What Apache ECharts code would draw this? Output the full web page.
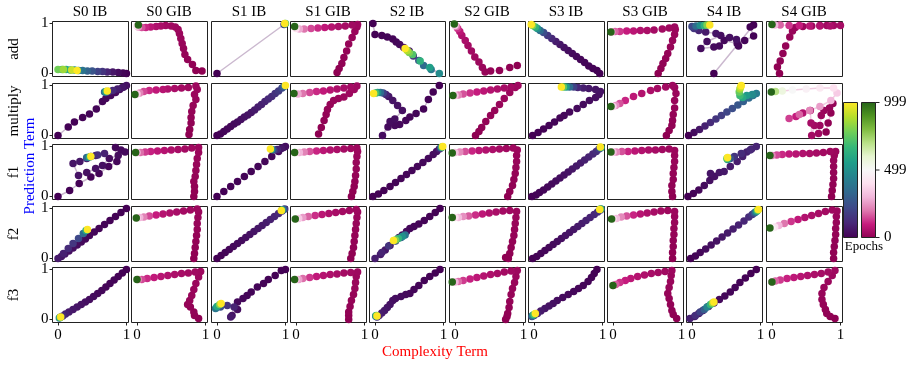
<!DOCTYPE html>
<html>
<head>
<meta charset="utf-8">
<script src="https://cdn.jsdelivr.net/npm/echarts@6/dist/echarts.min.js"></script>
<style>
html, body { margin: 0; padding: 0; background: #fff; }
#main { width: 914px; height: 369px; }
#err { position: absolute; left: 300px; top: 150px; font: 12px monospace; color: #000; }
</style>
</head>
<body>
<div id="main"></div>
<div id="err"></div>
<script>
var columns = ['S0 IB', 'S0 GIB', 'S1 IB', 'S1 GIB', 'S2 IB', 'S2 GIB', 'S3 IB', 'S3 GIB', 'S4 IB', 'S4 GIB'];
var rowNames = ['add', 'multiply', 'f1', 'f2', 'f3'];
var epochTicks = ['999', '499', '0'];

// each run: [complexity, prediction, epoch]
var addRuns = [
  [[1.0,0.0,0],[0.95,0.01,10],[0.88,0.02,30],[0.8,0.03,60],[0.72,0.03,100],[0.65,0.04,150],[0.58,0.04,200],[0.5,0.05,260],[0.43,0.05,320],[0.36,0.06,380],[0.3,0.06,440],[0.24,0.07,500],[0.18,0.07,560],[0.12,0.08,620],[0.06,0.08,700],[0.0,0.08,780],[0.08,0.08,850],[0.2,0.07,920],[0.28,0.06,999]],
  [[0.95,0.05,0],[0.86,0.06,3],[0.81,0.18,6],[0.74,0.28,9],[0.7,0.38,12],[0.68,0.5,15],[0.66,0.6,18],[0.64,0.7,21],[0.62,0.8,24],[0.6,0.88,27],[0.56,0.93,30],[0.5,0.95,35],[0.42,0.96,40],[0.35,0.95,50],[0.28,0.94,60],[0.2,0.93,80],[0.13,0.92,110],[0.07,0.92,160],[0.02,0.93,250],[0.0,0.95,400],[0.02,0.97,999]],
  [[0.0,0.0,0],[0.98,0.98,150],[0.99,0.99,400],[1.0,1.0,700],[0.99,1.0,999]],
  [[0.6,0.02,0],[0.63,0.1,3],[0.67,0.2,6],[0.7,0.32,9],[0.74,0.45,12],[0.77,0.59,15],[0.82,0.72,18],[0.86,0.84,21],[0.89,0.93,24],[0.9,0.98,28],[0.82,0.97,35],[0.72,0.95,45],[0.62,0.94,55],[0.52,0.93,70],[0.42,0.92,90],[0.32,0.91,115],[0.22,0.9,150],[0.12,0.89,200],[0.05,0.89,280],[0.0,0.9,400],[-0.02,0.94,999]],
  [[-0.03,1.0,0],[0.0,0.78,3],[0.1,0.76,6],[0.18,0.73,9],[0.26,0.69,12],[0.31,0.63,16],[0.36,0.58,22],[0.42,0.52,30],[0.5,0.45,60],[0.56,0.35,150],[0.64,0.26,250],[0.71,0.16,350],[0.82,0.08,420],[0.94,0.0,480],[0.8,0.12,560],[0.66,0.25,640],[0.55,0.38,720],[0.5,0.42,800],[0.47,0.46,880],[0.44,0.5,999]],
  [[0.91,0.16,0],[0.8,0.12,4],[0.65,0.06,8],[0.52,0.05,12],[0.44,0.03,16],[0.4,0.12,20],[0.35,0.23,25],[0.29,0.33,30],[0.24,0.45,35],[0.19,0.56,40],[0.15,0.66,50],[0.1,0.76,60],[0.07,0.84,80],[0.04,0.9,120],[0.02,0.94,200],[0.0,0.96,350],[-0.01,0.99,999]],
  [[0.96,0.0,0],[0.92,0.06,3],[0.86,0.1,6],[0.8,0.15,9],[0.74,0.22,12],[0.68,0.28,16],[0.62,0.34,20],[0.56,0.4,26],[0.5,0.46,34],[0.44,0.52,45],[0.38,0.58,60],[0.32,0.64,80],[0.26,0.7,110],[0.2,0.76,160],[0.14,0.82,240],[0.09,0.86,350],[0.05,0.9,500],[0.02,0.93,650],[-0.02,0.96,800],[-0.04,0.98,999]],
  [[0.66,0.0,0],[0.7,0.1,3],[0.73,0.2,6],[0.77,0.3,9],[0.8,0.4,12],[0.84,0.53,15],[0.87,0.66,18],[0.9,0.78,21],[0.91,0.88,24],[0.9,0.93,27],[0.82,0.91,31],[0.72,0.89,36],[0.6,0.87,42],[0.5,0.86,52],[0.4,0.86,64],[0.3,0.85,80],[0.2,0.85,100],[0.1,0.84,130],[0.03,0.84,180],[-0.02,0.83,300],[-0.03,0.83,999]],
  [[0.32,0.0,0],[0.9,0.97,3],[0.85,0.93,6],[0.9,0.75,9],[0.77,0.66,12],[0.68,0.55,15],[0.66,0.6,18],[0.47,0.66,21],[0.4,0.55,24],[0.32,0.53,27],[0.13,0.5,30],[0.22,0.64,34],[0.42,0.76,38],[0.55,0.72,42],[0.65,0.68,46],[0.35,0.8,55],[0.2,0.83,70],[0.1,0.86,100],[0.03,0.9,150],[0.0,0.94,220],[0.06,0.95,350],[0.12,0.96,500],[0.18,0.96,650],[0.22,0.97,800],[0.26,0.97,999]],
  [[0.11,0.0,0],[0.08,0.13,3],[0.12,0.25,6],[0.16,0.4,9],[0.2,0.55,12],[0.26,0.73,15],[0.3,0.85,18],[0.34,0.92,21],[0.45,0.94,24],[0.58,0.95,28],[0.7,0.96,32],[0.8,0.96,36],[0.9,0.96,40],[1.0,0.96,45],[0.85,0.95,55],[0.7,0.95,65],[0.55,0.95,80],[0.4,0.96,100],[0.25,0.96,130],[0.12,0.97,180],[0.04,0.97,300],[0.0,0.98,999]]
];

var multiplyRuns = [
  [[0.0,0.0,0],[0.15,0.17,2],[0.24,0.27,4],[0.36,0.36,6],[0.46,0.43,8],[0.56,0.53,10],[0.65,0.68,13],[0.7,0.74,16],[0.77,0.8,20],[0.84,0.86,25],[0.9,0.92,30],[0.96,0.97,38],[1.0,1.0,48],[0.94,0.96,60],[0.87,0.93,80],[0.8,0.9,110],[0.74,0.88,150],[0.7,0.86,220],[0.68,0.87,350],[0.7,0.88,600],[0.72,0.89,999]],
  [[0.76,0.02,0],[0.77,0.12,3],[0.79,0.25,6],[0.79,0.36,9],[0.8,0.48,12],[0.82,0.6,15],[0.86,0.72,18],[0.84,0.82,21],[0.88,0.92,24],[0.86,0.99,28],[0.75,0.96,33],[0.65,0.95,40],[0.55,0.94,50],[0.45,0.93,60],[0.38,0.92,72],[0.28,0.91,90],[0.18,0.9,115],[0.1,0.88,150],[0.04,0.85,220],[0.0,0.83,350],[-0.03,0.82,999]],
  [[0.0,0.0,0],[0.05,0.03,5],[0.1,0.08,10],[0.15,0.13,15],[0.2,0.18,20],[0.25,0.23,26],[0.3,0.27,32],[0.35,0.32,38],[0.4,0.37,45],[0.45,0.41,52],[0.5,0.46,60],[0.55,0.51,68],[0.6,0.57,77],[0.65,0.62,87],[0.7,0.68,98],[0.75,0.73,110],[0.8,0.78,125],[0.85,0.84,145],[0.9,0.89,170],[0.95,0.95,220],[0.98,0.98,350],[1.0,1.0,999]],
  [[0.33,0.03,0],[0.37,0.16,3],[0.41,0.3,6],[0.44,0.42,9],[0.46,0.52,12],[0.5,0.62,15],[0.55,0.7,18],[0.62,0.74,21],[0.7,0.77,24],[0.78,0.84,27],[0.85,0.92,30],[0.89,0.99,34],[0.8,0.97,40],[0.7,0.95,48],[0.6,0.93,58],[0.5,0.91,72],[0.4,0.89,90],[0.3,0.88,115],[0.2,0.86,150],[0.1,0.84,200],[0.03,0.83,280],[-0.03,0.84,999]],
  [[0.94,1.0,0],[0.85,0.87,3],[0.78,0.72,6],[0.71,0.53,9],[0.6,0.44,12],[0.51,0.37,15],[0.45,0.3,18],[0.36,0.22,21],[0.29,0.2,24],[0.19,0.17,27],[0.11,0.0,30],[0.22,0.28,34],[0.29,0.33,38],[0.4,0.5,42],[0.33,0.6,46],[0.26,0.7,50],[0.2,0.78,60],[0.16,0.82,100],[0.12,0.85,200],[0.08,0.86,350],[0.04,0.86,500],[0.01,0.85,700],[-0.02,0.84,999]],
  [[0.3,0.0,0],[0.35,0.08,3],[0.39,0.16,6],[0.45,0.28,9],[0.52,0.4,12],[0.58,0.5,15],[0.65,0.62,18],[0.72,0.74,21],[0.8,0.86,24],[0.88,0.96,28],[0.92,1.0,32],[0.82,0.97,38],[0.72,0.95,46],[0.62,0.93,56],[0.52,0.91,68],[0.42,0.89,82],[0.32,0.87,100],[0.22,0.85,125],[0.12,0.83,160],[0.05,0.81,220],[0.0,0.8,330],[-0.03,0.8,999]],
  [[-0.02,0.0,0],[0.06,0.06,3],[0.14,0.13,6],[0.22,0.2,9],[0.3,0.27,12],[0.38,0.35,15],[0.44,0.4,18],[0.52,0.47,21],[0.63,0.54,25],[0.72,0.62,29],[0.81,0.7,33],[0.9,0.76,37],[0.95,0.82,42],[0.97,0.88,48],[0.9,0.92,56],[0.8,0.94,66],[0.72,0.95,80],[0.64,0.96,110],[0.58,0.97,200],[0.52,0.97,350],[0.47,0.97,550],[0.43,0.97,750],[0.4,0.97,999]],
  [[0.78,0.0,0],[0.82,0.1,3],[0.86,0.2,6],[0.87,0.3,9],[0.88,0.42,12],[0.9,0.55,15],[0.9,0.7,18],[0.92,0.84,21],[0.9,0.96,24],[0.87,1.0,28],[0.77,0.97,34],[0.65,0.94,42],[0.55,0.9,52],[0.42,0.84,66],[0.3,0.78,85],[0.18,0.7,110],[0.1,0.64,160],[0.04,0.6,240],[0.0,0.58,360],[-0.03,0.58,999]],
  [[-0.05,0.0,0],[0.03,0.06,30],[0.11,0.12,60],[0.19,0.19,90],[0.27,0.26,120],[0.35,0.33,150],[0.43,0.4,180],[0.51,0.47,210],[0.59,0.54,240],[0.67,0.61,270],[0.75,0.68,300],[0.83,0.75,340],[0.89,0.8,380],[0.94,0.84,420],[0.88,0.82,480],[0.8,0.8,540],[0.74,0.76,600],[0.7,0.8,680],[0.69,0.87,760],[0.7,0.93,850],[0.71,0.97,930],[0.72,1.0,999]],
  [[0.79,0.07,0],[0.82,0.25,4],[0.86,0.45,8],[0.89,0.64,12],[0.84,0.55,16],[0.76,0.5,20],[0.72,0.4,24],[0.7,0.2,28],[0.68,0.04,32],[0.62,0.2,36],[0.58,0.0,40],[0.57,0.25,44],[0.56,0.5,50],[0.45,0.45,70],[0.35,0.38,100],[0.25,0.34,140],[0.4,0.42,180],[0.55,0.5,220],[0.7,0.58,260],[0.86,0.7,300],[0.95,0.85,350],[0.9,0.95,400],[0.7,0.95,440],[0.5,0.93,470],[0.3,0.91,500],[0.15,0.89,560],[0.05,0.88,700],[-0.01,0.87,999]]
];

var f1Runs = [
  [[0.0,0.0,0],[0.17,0.12,3],[0.31,0.26,6],[0.48,0.39,9],[0.6,0.46,12],[0.74,0.6,15],[0.86,0.7,18],[0.84,0.98,21],[0.92,0.93,24],[0.98,0.89,27],[0.88,0.82,31],[0.75,0.76,35],[0.65,0.62,39],[0.55,0.56,43],[0.42,0.48,47],[0.3,0.42,51],[0.22,0.66,56],[0.32,0.7,62],[0.42,0.76,70],[0.55,0.82,80],[0.68,0.86,95],[0.58,0.83,130],[0.48,0.8,200],[0.42,0.78,350],[0.46,0.79,600],[0.48,0.8,999]],
  [[0.83,0.0,0],[0.84,0.1,3],[0.84,0.2,6],[0.83,0.3,9],[0.85,0.4,12],[0.86,0.52,15],[0.87,0.64,18],[0.88,0.76,21],[0.9,0.88,24],[0.9,0.98,28],[0.8,0.97,33],[0.7,0.95,40],[0.6,0.94,48],[0.5,0.93,58],[0.4,0.92,70],[0.3,0.91,85],[0.2,0.9,105],[0.12,0.89,135],[0.05,0.88,190],[0.0,0.88,300],[-0.02,0.88,999]],
  [[0.0,0.0,0],[0.1,0.1,2],[0.2,0.2,4],[0.3,0.3,6],[0.4,0.4,8],[0.5,0.5,10],[0.6,0.6,13],[0.7,0.7,16],[0.8,0.8,20],[0.9,0.9,25],[0.97,0.98,30],[1.0,1.0,40],[0.94,0.96,60],[0.88,0.94,100],[0.83,0.93,200],[0.8,0.94,500],[0.78,0.95,999]],
  [[0.81,0.0,0],[0.83,0.1,3],[0.85,0.2,6],[0.86,0.3,9],[0.87,0.42,12],[0.88,0.55,15],[0.88,0.68,18],[0.89,0.8,21],[0.9,0.9,24],[0.89,0.97,28],[0.8,0.96,34],[0.7,0.95,42],[0.6,0.94,52],[0.5,0.93,64],[0.4,0.92,80],[0.3,0.91,110],[0.2,0.9,160],[0.12,0.89,220],[0.05,0.88,300],[0.0,0.88,380],[-0.02,0.88,999]],
  [[-0.03,0.0,0],[0.05,0.05,2],[0.13,0.12,4],[0.22,0.2,6],[0.3,0.28,8],[0.38,0.36,10],[0.46,0.44,12],[0.54,0.52,14],[0.62,0.6,17],[0.7,0.68,20],[0.78,0.76,24],[0.85,0.84,30],[0.9,0.9,40],[0.94,0.95,80],[0.96,0.97,200],[0.97,0.98,450],[0.98,0.99,750],[0.99,1.0,999]],
  [[0.77,0.0,0],[0.8,0.1,3],[0.84,0.22,6],[0.86,0.34,9],[0.88,0.46,12],[0.89,0.58,15],[0.9,0.7,18],[0.9,0.82,21],[0.91,0.93,25],[0.85,0.97,30],[0.75,0.96,36],[0.65,0.95,44],[0.55,0.94,54],[0.45,0.93,66],[0.35,0.92,82],[0.25,0.91,110],[0.15,0.9,160],[0.07,0.89,230],[0.0,0.88,330],[-0.04,0.87,999]],
  [[-0.03,0.0,0],[0.03,0.03,5],[0.08,0.08,10],[0.14,0.13,15],[0.2,0.19,20],[0.26,0.25,26],[0.32,0.31,32],[0.38,0.37,38],[0.44,0.43,45],[0.5,0.49,52],[0.56,0.55,60],[0.62,0.61,68],[0.68,0.67,77],[0.74,0.73,87],[0.8,0.79,98],[0.86,0.85,112],[0.91,0.9,130],[0.95,0.95,160],[0.97,0.97,300],[0.98,0.98,600],[0.97,0.99,999]],
  [[0.87,0.0,0],[0.86,0.1,3],[0.86,0.22,6],[0.88,0.34,9],[0.88,0.46,12],[0.89,0.58,15],[0.9,0.7,18],[0.9,0.82,21],[0.9,0.92,24],[0.82,0.95,30],[0.72,0.94,36],[0.62,0.93,44],[0.52,0.93,54],[0.42,0.92,66],[0.32,0.91,82],[0.22,0.9,110],[0.13,0.9,160],[0.05,0.89,230],[0.0,0.89,320],[-0.03,0.89,999]],
  [[-0.06,0.0,0],[0.02,0.06,10],[0.1,0.13,20],[0.18,0.22,30],[0.26,0.32,40],[0.33,0.4,48],[0.27,0.46,54],[0.4,0.48,60],[0.47,0.5,66],[0.56,0.6,72],[0.66,0.7,78],[0.74,0.8,84],[0.8,0.89,90],[0.87,0.95,96],[0.94,1.0,102],[0.85,0.93,110],[0.72,0.86,125],[0.62,0.8,150],[0.56,0.76,250],[0.52,0.74,500],[0.51,0.76,750],[0.52,0.78,999]],
  [[0.87,0.0,0],[0.88,0.12,3],[0.89,0.24,6],[0.9,0.36,9],[0.9,0.48,12],[0.9,0.6,15],[0.9,0.72,18],[0.91,0.82,21],[0.93,0.9,24],[0.85,0.9,30],[0.75,0.88,36],[0.65,0.87,44],[0.55,0.86,52],[0.45,0.86,62],[0.35,0.85,75],[0.25,0.85,92],[0.15,0.84,115],[0.07,0.83,150],[0.0,0.82,220],[-0.03,0.82,999]]
];

var f2Runs = [
  [[1.0,1.0,0],[0.92,0.92,2],[0.84,0.84,4],[0.76,0.76,6],[0.68,0.68,8],[0.6,0.6,10],[0.53,0.53,13],[0.46,0.46,16],[0.4,0.39,20],[0.34,0.33,25],[0.28,0.27,30],[0.22,0.21,36],[0.16,0.15,42],[0.1,0.09,50],[0.05,0.04,60],[0.0,0.0,70],[0.08,0.1,90],[0.15,0.2,120],[0.22,0.3,160],[0.3,0.4,220],[0.37,0.5,350],[0.41,0.56,600],[0.43,0.58,999]],
  [[0.83,0.0,0],[0.84,0.1,3],[0.85,0.22,6],[0.86,0.34,9],[0.87,0.46,12],[0.88,0.58,15],[0.88,0.7,18],[0.89,0.82,21],[0.9,0.93,24],[0.88,0.99,28],[0.78,0.97,34],[0.68,0.95,40],[0.58,0.93,48],[0.48,0.91,58],[0.38,0.89,70],[0.28,0.87,100],[0.18,0.85,150],[0.1,0.83,220],[0.04,0.82,300],[0.0,0.81,380],[-0.01,0.81,999]],
  [[0.0,0.0,0],[0.06,0.06,5],[0.12,0.12,10],[0.18,0.18,15],[0.24,0.24,20],[0.3,0.3,26],[0.36,0.36,32],[0.42,0.42,38],[0.48,0.48,45],[0.54,0.54,52],[0.6,0.6,60],[0.66,0.66,68],[0.72,0.72,77],[0.78,0.78,87],[0.84,0.84,98],[0.9,0.9,112],[0.95,0.95,130],[0.99,0.99,160],[0.97,0.98,300],[0.95,0.97,600],[0.94,0.96,999]],
  [[0.8,0.0,0],[0.82,0.1,3],[0.84,0.22,6],[0.85,0.34,9],[0.86,0.46,12],[0.87,0.58,15],[0.88,0.7,18],[0.89,0.82,21],[0.9,0.93,24],[0.88,0.98,28],[0.78,0.96,34],[0.68,0.94,40],[0.58,0.92,48],[0.48,0.9,58],[0.38,0.88,80],[0.28,0.86,120],[0.18,0.84,180],[0.1,0.82,260],[0.04,0.8,350],[0.0,0.79,430],[-0.01,0.79,999]],
  [[0.95,1.0,0],[0.88,0.92,3],[0.8,0.84,6],[0.72,0.76,9],[0.64,0.69,12],[0.57,0.64,15],[0.51,0.6,18],[0.46,0.54,22],[0.4,0.47,28],[0.35,0.42,36],[0.3,0.36,46],[0.22,0.26,56],[0.15,0.17,64],[0.08,0.08,72],[0.0,0.0,80],[0.1,0.12,100],[0.2,0.25,150],[0.3,0.35,220],[0.38,0.42,300],[0.44,0.47,380],[0.4,0.44,500],[0.34,0.4,650],[0.3,0.37,800],[0.27,0.36,999]],
  [[0.74,0.02,0],[0.78,0.0,2],[0.8,0.1,4],[0.82,0.22,7],[0.84,0.34,10],[0.86,0.46,13],[0.87,0.58,16],[0.88,0.7,19],[0.89,0.82,22],[0.9,0.94,26],[0.8,0.96,32],[0.7,0.95,40],[0.6,0.93,50],[0.5,0.91,62],[0.4,0.89,85],[0.3,0.87,120],[0.2,0.85,170],[0.12,0.84,240],[0.05,0.82,320],[0.0,0.82,400],[-0.04,0.82,999]],
  [[-0.02,0.0,0],[0.04,0.04,5],[0.1,0.1,10],[0.16,0.16,15],[0.22,0.22,20],[0.28,0.28,26],[0.34,0.34,32],[0.4,0.4,38],[0.46,0.46,45],[0.52,0.52,52],[0.58,0.58,60],[0.64,0.64,68],[0.7,0.7,77],[0.76,0.76,87],[0.82,0.82,98],[0.88,0.88,112],[0.93,0.93,130],[0.97,0.97,170],[0.98,0.99,400],[0.97,0.99,700],[0.96,0.98,999]],
  [[0.87,0.0,0],[0.87,0.12,3],[0.88,0.24,6],[0.88,0.36,9],[0.89,0.48,12],[0.89,0.6,15],[0.9,0.72,18],[0.9,0.84,21],[0.9,0.94,25],[0.8,0.96,31],[0.7,0.95,38],[0.6,0.93,46],[0.5,0.91,56],[0.4,0.89,75],[0.3,0.87,110],[0.2,0.85,160],[0.12,0.83,230],[0.05,0.8,320],[0.0,0.79,400],[-0.02,0.79,999]],
  [[-0.02,0.0,0],[0.05,0.05,10],[0.12,0.12,20],[0.2,0.19,30],[0.28,0.27,40],[0.36,0.35,50],[0.44,0.43,60],[0.52,0.51,70],[0.6,0.59,80],[0.68,0.67,92],[0.76,0.75,105],[0.83,0.83,125],[0.88,0.88,160],[0.91,0.91,250],[0.93,0.93,400],[0.95,0.95,600],[0.96,0.97,800],[0.97,0.98,999]],
  [[0.9,0.0,0],[0.9,0.12,3],[0.91,0.24,6],[0.92,0.36,9],[0.93,0.48,12],[0.93,0.6,15],[0.94,0.72,18],[0.94,0.84,21],[0.95,0.95,25],[0.88,0.97,31],[0.78,0.94,38],[0.68,0.9,46],[0.58,0.86,55],[0.48,0.82,66],[0.38,0.78,90],[0.28,0.74,130],[0.18,0.7,200],[0.1,0.66,300],[0.04,0.63,420],[0.0,0.61,480],[-0.03,0.61,999]]
];

var f3Runs = [
  [[1.0,1.0,0],[0.94,0.93,3],[0.88,0.86,6],[0.82,0.79,9],[0.76,0.72,12],[0.7,0.65,15],[0.64,0.58,19],[0.58,0.52,23],[0.52,0.46,28],[0.46,0.4,34],[0.4,0.35,40],[0.34,0.3,47],[0.28,0.25,55],[0.22,0.2,64],[0.16,0.15,75],[0.11,0.11,90],[0.07,0.07,120],[0.04,0.05,200],[0.02,0.03,400],[0.03,0.04,700],[0.04,0.05,999]],
  [[0.9,0.02,0],[0.84,0.08,3],[0.83,0.15,6],[0.78,0.25,9],[0.74,0.3,12],[0.77,0.38,15],[0.8,0.48,18],[0.83,0.6,21],[0.86,0.72,24],[0.9,0.85,27],[0.93,0.96,30],[0.85,0.95,34],[0.75,0.93,40],[0.65,0.92,46],[0.55,0.9,54],[0.45,0.88,64],[0.35,0.86,76],[0.25,0.84,92],[0.15,0.82,115],[0.07,0.8,150],[0.02,0.8,220],[0.0,0.8,999]],
  [[1.0,1.0,0],[0.94,0.98,2],[0.85,0.88,4],[0.75,0.8,6],[0.68,0.72,8],[0.59,0.65,10],[0.5,0.55,12],[0.44,0.48,14],[0.38,0.42,18],[0.3,0.35,25],[0.3,0.2,35],[0.22,0.08,50],[0.2,0.05,70],[0.25,0.25,100],[0.15,0.28,150],[0.05,0.25,250],[-0.02,0.22,400],[0.0,0.26,600],[0.04,0.3,800],[0.06,0.32,999]],
  [[0.77,0.0,0],[0.77,0.08,3],[0.77,0.15,6],[0.79,0.26,9],[0.81,0.38,12],[0.84,0.5,15],[0.86,0.62,18],[0.87,0.74,21],[0.88,0.86,24],[0.9,0.95,28],[0.8,0.94,34],[0.7,0.93,40],[0.6,0.91,48],[0.5,0.9,58],[0.4,0.88,70],[0.3,0.86,90],[0.2,0.84,130],[0.1,0.82,190],[0.04,0.8,270],[0.0,0.8,350],[-0.02,0.8,999]],
  [[0.95,1.0,0],[0.88,0.93,3],[0.8,0.86,6],[0.72,0.78,9],[0.64,0.68,12],[0.57,0.6,15],[0.51,0.52,18],[0.45,0.5,22],[0.38,0.46,27],[0.3,0.42,33],[0.26,0.38,40],[0.22,0.3,48],[0.18,0.24,56],[0.14,0.18,65],[0.1,0.13,75],[0.06,0.08,90],[0.03,0.05,130],[0.02,0.06,250],[0.01,0.07,450],[0.02,0.08,700],[0.03,0.07,999]],
  [[0.74,0.0,0],[0.76,0.06,3],[0.77,0.12,6],[0.79,0.24,9],[0.8,0.36,12],[0.82,0.5,15],[0.84,0.62,18],[0.87,0.74,21],[0.89,0.86,24],[0.91,0.98,28],[0.82,0.97,34],[0.72,0.95,40],[0.62,0.92,48],[0.52,0.9,58],[0.42,0.87,70],[0.32,0.84,85],[0.22,0.81,105],[0.12,0.78,135],[0.05,0.76,190],[0.0,0.75,300],[-0.04,0.75,999]],
  [[0.92,1.0,0],[0.88,0.92,3],[0.84,0.84,6],[0.79,0.76,9],[0.72,0.68,12],[0.65,0.62,15],[0.58,0.56,18],[0.5,0.5,22],[0.42,0.44,27],[0.34,0.38,33],[0.28,0.32,40],[0.22,0.27,50],[0.16,0.22,60],[0.1,0.17,72],[0.05,0.12,90],[0.0,0.08,130],[-0.03,0.06,250],[-0.02,0.08,450],[0.0,0.1,700],[0.02,0.12,999]],
  [[0.93,0.02,0],[0.88,0.1,3],[0.86,0.18,6],[0.84,0.3,9],[0.82,0.42,12],[0.8,0.52,15],[0.82,0.64,18],[0.84,0.76,21],[0.85,0.88,24],[0.86,0.98,28],[0.76,0.96,34],[0.66,0.94,40],[0.56,0.92,48],[0.46,0.89,58],[0.36,0.86,70],[0.26,0.82,84],[0.18,0.78,100],[0.1,0.74,125],[0.04,0.7,170],[0.0,0.68,260],[0.0,0.68,999]],
  [[0.94,1.0,0],[0.86,0.92,3],[0.78,0.83,6],[0.7,0.74,9],[0.63,0.64,12],[0.56,0.55,15],[0.48,0.47,19],[0.4,0.4,24],[0.32,0.33,30],[0.24,0.26,38],[0.16,0.18,48],[0.1,0.12,60],[0.04,0.06,75],[-0.03,0.02,90],[0.05,0.08,130],[0.12,0.15,200],[0.18,0.2,300],[0.22,0.25,450],[0.27,0.3,650],[0.3,0.33,850],[0.32,0.35,999]],
  [[0.92,0.02,0],[0.85,0.06,3],[0.8,0.12,6],[0.78,0.2,9],[0.75,0.3,12],[0.73,0.4,15],[0.73,0.52,18],[0.76,0.64,21],[0.82,0.76,24],[0.88,0.88,27],[0.92,0.98,31],[0.82,0.95,37],[0.72,0.92,44],[0.62,0.9,52],[0.52,0.88,62],[0.42,0.86,74],[0.32,0.84,88],[0.22,0.82,106],[0.12,0.79,135],[0.05,0.77,180],[0.0,0.75,260],[0.0,0.75,999]]
];

var allRuns = [addRuns, multiplyRuns, f1Runs, f2Runs, f3Runs];

var viridis = ['#440154', '#482878', '#3e4989', '#31688e', '#26828e', '#1f9e89', '#35b779', '#6ece58', '#b5de2b', '#fde725'];
var piyg = ['#8e0152', '#c51b7d', '#de77ae', '#f1b6da', '#fde0ef', '#f7f7f7', '#e6f5d0', '#b8e186', '#7fbc41', '#4d9221', '#276419'];

var serif = '"Liberation Serif", "DejaVu Serif", serif';
var chart = echarts.init(document.getElementById('main'));
var errs = [];
function tryIt(name, fn) { try { fn(); } catch (e) { errs.push(name + ': ' + e.message); } }

var grids = [], xAxes = [], yAxes = [], scatters = [], lines = [];
var ibIdx = [], gibIdx = [];
var lastRow = rowNames.length - 1;

for (var r = 0; r < rowNames.length; r++) {
    for (var c = 0; c < columns.length; c++) {
        var idx = r * columns.length + c;
        grids.push({
            left: Math.round(52 + c * 79.3) + 0.5, top: Math.round(21 + r * 61.5) + 0.5, width: 76, height: 55,
            show: true, borderColor: '#222', borderWidth: 1
        });
        xAxes.push({
            gridIndex: idx, type: 'value', min: -0.08, max: 1.03, position: 'bottom',
            axisLine: { show: false, onZero: false }, splitLine: { show: false },
            axisTick: { show: r === lastRow, customValues: [0, 1], length: 3, lineStyle: { color: '#222' } },
            axisLabel: { show: r === lastRow, customValues: [0, 1], margin: 5, fontFamily: serif, fontSize: 15, color: '#000' }
        });
        yAxes.push({
            gridIndex: idx, type: 'value', min: -0.06, max: 1.04, position: 'left',
            axisLine: { show: false, onZero: false }, splitLine: { show: false },
            axisTick: { show: c === 0, customValues: [0, 1], length: 3, lineStyle: { color: '#222' } },
            axisLabel: { show: c === 0, customValues: [0, 1], margin: 4, fontFamily: serif, fontSize: 15, color: '#000' }
        });
        var isIB = c % 2 === 0;
        (isIB ? ibIdx : gibIdx).push(idx);
        scatters.push({
            type: 'scatter', xAxisIndex: idx, yAxisIndex: idx,
            data: allRuns[r][c].slice(), symbolSize: 7.5, z: 3,
            itemStyle: { opacity: 1 }
        });
        lines.push({
            type: 'line', xAxisIndex: idx, yAxisIndex: idx,
            data: allRuns[r][c].slice(), showSymbol: false, z: 2,
            lineStyle: { width: 1.5, color: isIB ? 'rgba(68,1,84,0.28)' : 'rgba(197,27,125,0.22)' }
        });
    }
}

tryIt('chart', function () {
    chart.setOption({
        animation: false,
        grid: grids,
        xAxis: xAxes,
        yAxis: yAxes,
        visualMap: [
            { type: 'continuous', show: false, min: 0, max: 999, dimension: 2, seriesIndex: ibIdx, inRange: { color: viridis } },
            { type: 'continuous', show: false, min: 0, max: 999, dimension: 2, seriesIndex: gibIdx, inRange: { color: piyg } }
        ],
        series: scatters.concat(lines)
    });
});

// titles, labels and colorbars
var graphics = [];
function label(text, x, y, size, color, rotate, align) {
    graphics.push({ type: 'text', x: x, y: y, rotation: rotate ? Math.PI / 2 : 0,
        style: { text: text, font: size + 'px ' + serif, fill: color, textAlign: align || 'center', textVerticalAlign: 'middle' } });
}
columns.forEach(function (name, c) { label(name, Math.round(52 + c * 79.3) + 38, 12, 15, '#000'); });
rowNames.forEach(function (name, r) { label(name, 14, Math.round(21 + r * 61.5) + 28, 15, '#000', true); });
label('Prediction Term', 30, 166, 15, '#0000ff', true);
label('Complexity Term', 435, 352, 15, '#ff0000');

function gradient(cols) {
    return { type: 'linear', x: 0, y: 1, x2: 0, y2: 0,
        colorStops: cols.map(function (col, i) { return { offset: i / (cols.length - 1), color: col }; }) };
}
var cbTop = 102, cbBottom = 237;
graphics.push({ type: 'rect', shape: { x: 843.5, y: cbTop + 0.5, width: 14, height: cbBottom - cbTop },
    style: { fill: gradient(viridis), stroke: '#222', lineWidth: 1 } });
graphics.push({ type: 'rect', shape: { x: 861.5, y: cbTop + 0.5, width: 14, height: cbBottom - cbTop },
    style: { fill: gradient(piyg), stroke: '#222', lineWidth: 1 } });
epochTicks.forEach(function (t, i) {
    var y = cbTop + 0.5 + i * (cbBottom - cbTop) / 2;
    graphics.push({ type: 'line', shape: { x1: 875.5, y1: y, x2: 879.5, y2: y }, style: { stroke: '#222', lineWidth: 1 } });
    label(t, 884, y, 15, '#000', false, 'left');
});
label('Epochs', 864, 247, 13, '#000');

tryIt('graphic', function () { chart.setOption({ graphic: graphics }); });
if (errs.length) document.getElementById('err').textContent = errs.join(' | ');
</script>
</body>
</html>
